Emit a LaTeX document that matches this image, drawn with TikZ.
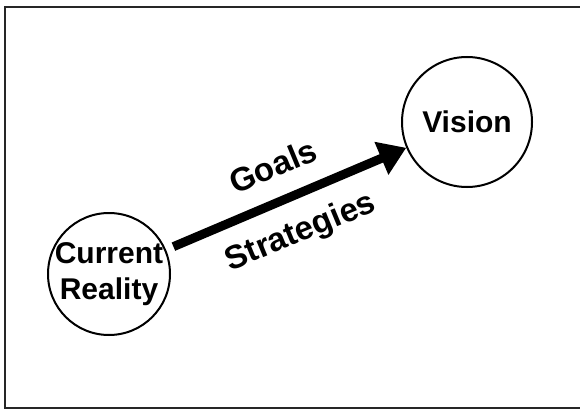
\documentclass[tikz,border=0pt]{standalone}
\usepackage{fontspec}
\setmainfont{Liberation Sans}
\usetikzlibrary{arrows.meta}
\begin{document}
\begin{tikzpicture}[x=1pt,y=-1pt,
  ring/.style={circle, draw, line width=2pt, minimum size=122pt, inner sep=0pt},
  ringtext/.style={align=center, inner sep=0pt, font=\fontsize{30}{36}\selectfont\bfseries},
  lbl/.style={font=\fontsize{33}{35}\selectfont\bfseries, rotate=22.5, inner sep=0pt},
  bigarrow/.style={line width=9pt, -{Triangle[length=27pt,width=34pt]}, shorten <=8pt}]
\useasboundingbox (0,0) rectangle (580,409);
\clip (0,0) rectangle (580,409);
% outer frame, open on the right
\draw[line width=2.5pt, black!85] (590,7) -- (5,7) -- (5,408) -- (590,408);
% circles
\node[ring] (cr) at (109,274) {};
\node[ringtext] (crtext) at (cr.center) {Current\\Reality};
\node[ring, minimum size=130pt] (vi) at (467,122) {};
\node[ringtext] (vitext) at (vi.center) {Vision};
% arrow between them
\draw[bigarrow] (cr) -- (vi);
% labels along the arrow
\node[lbl] (goals) at (273,166) {Goals};
\node[lbl] (strat) at (301,233) {Strategies};
\end{tikzpicture}
\end{document}
